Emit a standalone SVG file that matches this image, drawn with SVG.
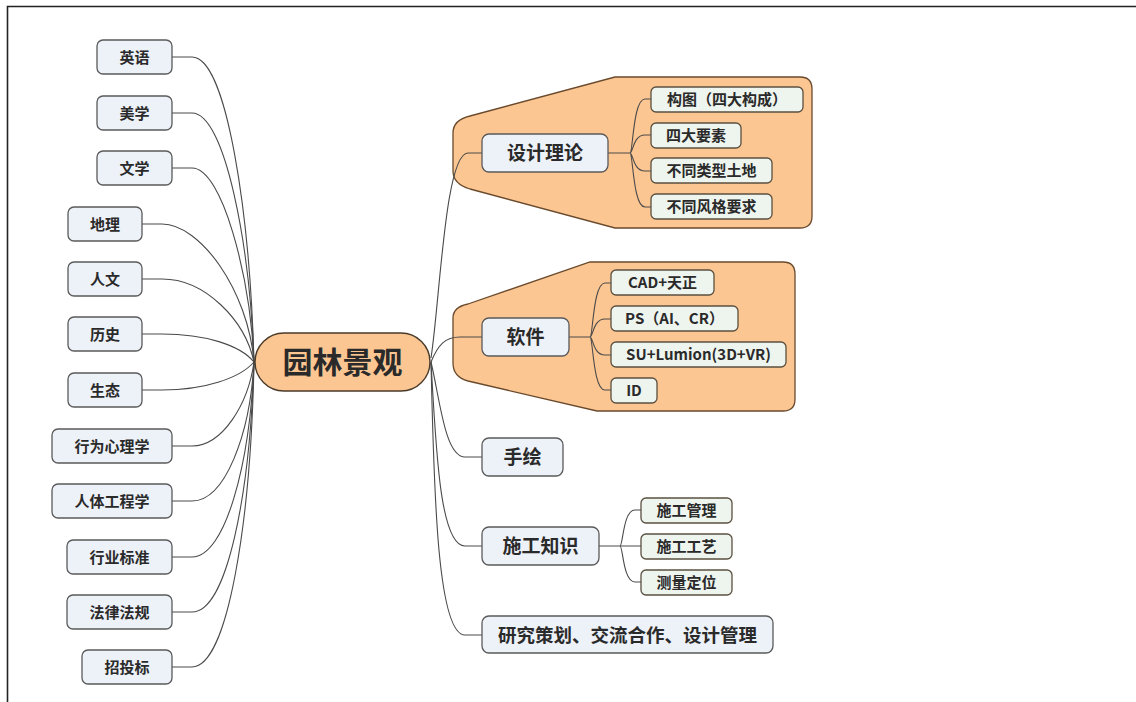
<svg xmlns="http://www.w3.org/2000/svg" width="1136" height="702" viewBox="0 0 1136 702">
<style>
text{font-family:"Noto Sans CJK SC","Noto Sans",sans-serif;font-weight:700;fill:#2a2a2a;text-anchor:middle}
.ln{fill:none;stroke:#4a4a4a;stroke-width:1.1}
.lt{fill:#edf1f8;stroke:#5a5a5a;stroke-width:1.3}
.sb{fill:#eef4ee;stroke:#5a5040;stroke-width:1.3}
.rg{fill:#fcc692;stroke:#6a4a2c;stroke-width:1.3}
.f15{font-size:15px}
.f19{font-size:19px}
</style>
<rect width="1136" height="702" fill="#fff"/>
<path d="M7.5,702 V6.5 H1136" fill="none" stroke="#222" stroke-width="1.6"/>
<g id="regions">
<path class="rg" d="M470,116 L615,77 H800 Q812,77 812,89 V216 Q812,228 800,228 H615 L470,189 Q453,184 453,171 V133 Q453,120 470,116 Z"/>
<path class="rg" d="M468,304 L590,262 H783 Q795,262 795,274 V399 Q795,411 783,411 H597 L468,381 Q453,377 453,363 V318 Q453,307 468,304 Z"/>
</g>
<g id="connectors">
<path class="ln" d="M172,57 H192 C227,57 250,215 254,362"/>
<path class="ln" d="M172,113 H192 C225,113 250,245 254,362"/>
<path class="ln" d="M172,168 H192 C222,168 250,275 254,362"/>
<path class="ln" d="M142,224 H162 C200,224 248,290 254,362"/>
<path class="ln" d="M142,279 H162 C205,279 245,320 254,362"/>
<path class="ln" d="M142,334 H162 C205,334 240,345 254,362"/>
<path class="ln" d="M142,390 H162 C205,390 240,378 254,362"/>
<path class="ln" d="M172,446 H192 C222,446 248,405 254,362"/>
<path class="ln" d="M172,501 H192 C225,501 250,435 254,362"/>
<path class="ln" d="M172,557 H192 C225,557 250,465 254,362"/>
<path class="ln" d="M172,612 H192 C227,612 250,495 254,362"/>
<path class="ln" d="M172,667 H192 C228,667 251,520 254,362"/>
<path class="ln" d="M431,358 C440,300 445,153 468,153 H482"/>
<path class="ln" d="M431,362 C438,345 445,337 460,337 H482"/>
<path class="ln" d="M431,362 C440,400 445,457 465,457 H482"/>
<path class="ln" d="M431,362 C436,450 440,546 465,546 H482"/>
<path class="ln" d="M431,362 C434,500 438,635 465,635 H482"/>
<path class="ln" d="M608,153 H630 M630,153 C633,153 633,99 645,99 H651 M630,153 C633,153 633,135 645,135 H651 M630,153 C633,153 633,171 645,171 H651 M630,153 C633,153 633,207 645,207 H651"/>
<path class="ln" d="M569,337 H590 M590,337 C593,337 593,283 605,283 H611 M590,337 C593,337 593,319 605,319 H611 M590,337 C593,337 593,355 605,355 H611 M590,337 C593,337 593,390 605,390 H611"/>
<path class="ln" d="M599,546 H620 M620,546 C623,546 623,510 635,510 H641 M620,546 H641 M620,546 C623,546 623,582 635,582 H641"/>
</g>
<g id="center"><rect x="255" y="333" width="175" height="58" rx="29" fill="#fcc692" stroke="#4a3a2a" stroke-width="1.4"/><text x="342.5" y="373" style="font-size:30px">园林景观</text></g>
<g id="n-yingyu"><rect class="lt" x="97" y="40" width="75" height="34" rx="6"/><text class="f15" x="134.5" y="62.7">英语</text></g>
<g id="n-meixue"><rect class="lt" x="97" y="96" width="75" height="34" rx="6"/><text class="f15" x="134.5" y="118.7">美学</text></g>
<g id="n-wenxue"><rect class="lt" x="97" y="151" width="75" height="34" rx="6"/><text class="f15" x="134.5" y="173.7">文学</text></g>
<g id="n-dili"><rect class="lt" x="68" y="207" width="74" height="34" rx="6"/><text class="f15" x="105" y="229.7">地理</text></g>
<g id="n-renwen"><rect class="lt" x="68" y="262" width="74" height="34" rx="6"/><text class="f15" x="105" y="284.7">人文</text></g>
<g id="n-lishi"><rect class="lt" x="68" y="317" width="74" height="34" rx="6"/><text class="f15" x="105" y="339.7">历史</text></g>
<g id="n-shengtai"><rect class="lt" x="68" y="373" width="74" height="34" rx="6"/><text class="f15" x="105" y="395.7">生态</text></g>
<g id="n-xingwei"><rect class="lt" x="52" y="429" width="120" height="34" rx="6"/><text class="f15" x="112" y="451.7">行为心理学</text></g>
<g id="n-renti"><rect class="lt" x="52" y="484" width="120" height="34" rx="6"/><text class="f15" x="112" y="506.7">人体工程学</text></g>
<g id="n-hangye"><rect class="lt" x="67" y="540" width="105" height="34" rx="6"/><text class="f15" x="119.5" y="562.7">行业标准</text></g>
<g id="n-falv"><rect class="lt" x="67" y="595" width="105" height="34" rx="6"/><text class="f15" x="119.5" y="617.7">法律法规</text></g>
<g id="n-zhaotoubiao"><rect class="lt" x="82" y="650" width="90" height="34" rx="6"/><text class="f15" x="127" y="672.7">招投标</text></g>
<g id="n-sheji"><rect class="lt" x="482" y="134" width="126" height="38" rx="7"/><text class="f19" x="545" y="160.2">设计理论</text></g>
<g id="s-goutu"><rect class="sb" x="651" y="87" width="152" height="25" rx="5"/><text class="f15" x="727" y="105">构图（四大构成）</text></g>
<g id="s-sida"><rect class="sb" x="651" y="123" width="90" height="25" rx="5"/><text class="f15" x="696" y="141">四大要素</text></g>
<g id="s-tudi"><rect class="sb" x="651" y="158" width="121" height="25" rx="5"/><text class="f15" x="711.5" y="176">不同类型土地</text></g>
<g id="s-fengge"><rect class="sb" x="651" y="194" width="121" height="25" rx="5"/><text class="f15" x="711.5" y="212">不同风格要求</text></g>
<g id="n-ruanjian"><rect class="lt" x="482" y="318" width="87" height="38" rx="7"/><text class="f19" x="525.5" y="344.2">软件</text></g>
<g id="s-cad"><rect class="sb" x="611" y="270" width="103" height="25" rx="5"/><text class="f15" x="662.5" y="288">CAD+天正</text></g>
<g id="s-ps"><rect class="sb" x="611" y="306" width="127" height="25" rx="5"/><text class="f15" x="674.5" y="324">PS（AI、CR）</text></g>
<g id="s-su"><rect class="sb" x="611" y="342" width="175" height="25" rx="5"/><text class="f15" x="698.5" y="360">SU+Lumion(3D+VR)</text></g>
<g id="s-id"><rect class="sb" x="611" y="378" width="46" height="25" rx="5"/><text class="f15" x="634" y="396">ID</text></g>
<g id="n-shouhui"><rect class="lt" x="482" y="438" width="81" height="38" rx="7"/><text class="f19" x="522.5" y="464.2">手绘</text></g>
<g id="n-shigong"><rect class="lt" x="482" y="527" width="117" height="38" rx="7"/><text class="f19" x="540.5" y="553.2">施工知识</text></g>
<g id="s-guanli"><rect class="sb" x="641" y="498" width="91" height="25" rx="5"/><text class="f15" x="686.5" y="516">施工管理</text></g>
<g id="s-gongyi"><rect class="sb" x="641" y="534" width="91" height="25" rx="5"/><text class="f15" x="686.5" y="552">施工工艺</text></g>
<g id="s-celiang"><rect class="sb" x="641" y="570" width="91" height="25" rx="5"/><text class="f15" x="686.5" y="588">测量定位</text></g>
<g id="n-yanjiu"><rect class="lt" x="482" y="616" width="291" height="37" rx="7"/><text x="627.5" y="641.7" style="font-size:18.5px">研究策划、交流合作、设计管理</text></g>
</svg>
